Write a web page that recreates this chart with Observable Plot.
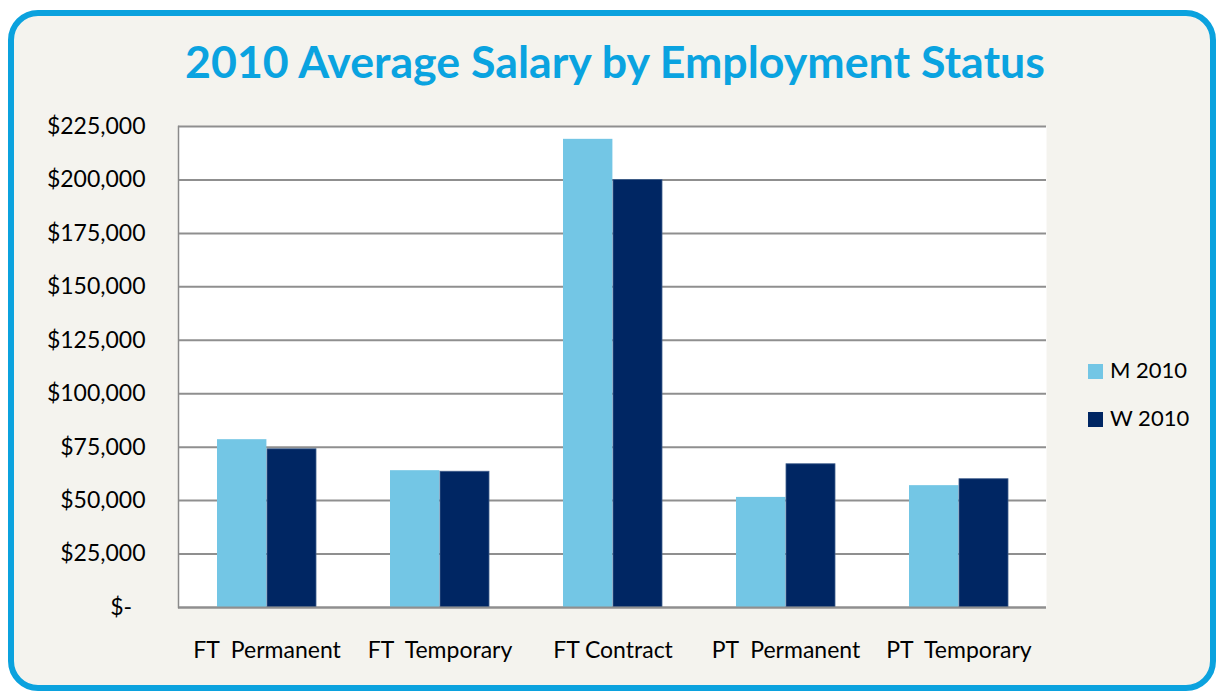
<!DOCTYPE html>
<html><head><meta charset="utf-8">
<script src="https://cdn.jsdelivr.net/npm/d3@7"></script>
<script src="https://cdn.jsdelivr.net/npm/@observablehq/plot@0.6"></script>
<style>
body{margin:0;background:#fff;font-family:Lato,sans-serif;}
#box{position:absolute;left:8px;top:10px;width:1208px;height:681px;box-sizing:border-box;border:6px solid #0BA2DE;border-radius:30px;background:#F4F3EE;}
#title{position:absolute;left:0;top:39px;width:1230px;text-align:center;font-family:Lato,sans-serif;font-weight:700;font-size:44.7px;line-height:1;color:#0AA3E0;white-space:nowrap;}
#chart{position:absolute;left:0;top:100px;}
#chart svg text{white-space:pre;}
#legend{position:absolute;left:1088px;top:359px;font-family:Lato,sans-serif;font-size:22px;color:#000;}
.item{position:absolute;left:0;white-space:nowrap;line-height:1;}
.sw{display:inline-block;width:15px;height:15px;margin-right:7px;vertical-align:-1px;}
</style></head>
<body>
<div id="box"></div>
<div id="title">2010 Average Salary by Employment Status</div>
<div id="chart"></div>
<div id="legend"></div>
<script>
const categories = ["FT  Permanent", "FT  Temporary", "FT Contract", "PT  Permanent", "PT  Temporary"];
const seriesNames = ["M 2010", "W 2010"];
const seriesColors = ["#73C6E5", "#002663"];
const men2010 = [78500, 64000, 219000, 51500, 57000];
const women2010 = [74000, 63500, 200000, 67000, 60000];
const yTicks = [0, 25000, 50000, 75000, 100000, 125000, 150000, 175000, 200000, 225000];

const rowsM = categories.map((c, i) => ({category: c, series: seriesNames[0], value: men2010[i]}));
const rowsW = categories.map((c, i) => ({category: c, series: seriesNames[1], value: women2010[i]}));
const fmt = d => d === 0 ? "$-\u2007" : "$" + d3.format(",")(d);

const chart = Plot.plot({
  width: 1216, height: 570,
  marginLeft: 178, marginRight: 170, marginTop: 26, marginBottom: 63,
  style: {background: "transparent", fontFamily: "Lato, sans-serif", color: "#000"},
  x: {domain: categories, padding: 0, label: null, axis: null},
  y: {domain: [0, 225000], label: null, axis: null},
  marks: [
    Plot.frame({fill: "white", stroke: null}),
    Plot.gridY(yTicks, {stroke: "#8f8f8f", strokeWidth: 2, strokeOpacity: 1}),
    Plot.barY(rowsM, {x: "category", y: "value", fill: seriesColors[0], insetLeft: 37, insetRight: 86.6}),
    Plot.barY(rowsW, {x: "category", y: "value", fill: seriesColors[1], stroke: "#3f5f8c", strokeWidth: 0.8, insetLeft: 87, insetRight: 37}),
    Plot.ruleY([0], {stroke: "#8f8f8f", strokeWidth: 2}),
    Plot.frame({anchor: "left", stroke: "#8a8a8a", strokeWidth: 1.5}),
    Plot.axisY(yTicks, {tickSize: 0, tickPadding: 33, tickFormat: fmt, fontSize: 23, fill: "#000"}),
    Plot.axisX({tickSize: 0, tickPadding: 34.5, fontSize: 23, fill: "#000"})
  ]
});
document.getElementById("chart").appendChild(chart);

const legend = document.getElementById("legend");
seriesNames.forEach((s, i) => {
  const d = document.createElement("div");
  d.className = "item";
  d.style.top = (i * 48) + "px";
  d.innerHTML = `<span class="sw" style="background:${seriesColors[i]}"></span>${s}`;
  legend.appendChild(d);
});
</script>
</body></html>
